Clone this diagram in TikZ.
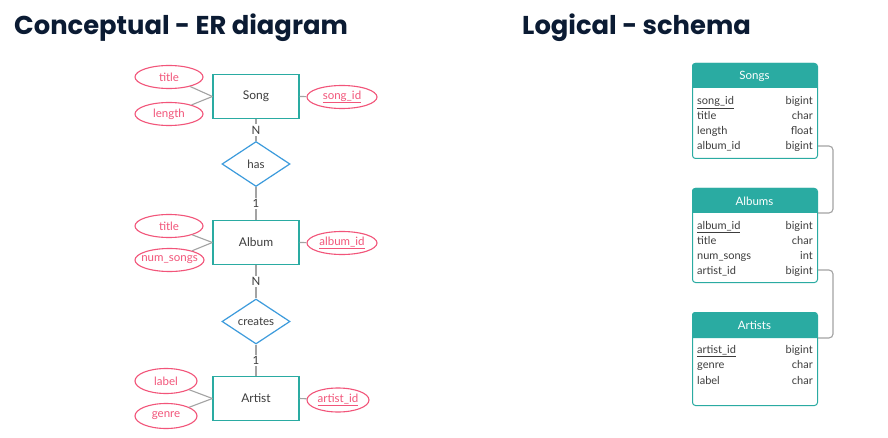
\documentclass[tikz,border=0pt]{standalone}
\usepackage{fontspec}
\setmainfont{Lato}
\newfontfamily\headfont{Poppins}
\usetikzlibrary{shapes.geometric}
\definecolor{tealc}{HTML}{2AABA2}
\definecolor{pinkc}{HTML}{F2557A}
\definecolor{bluec}{HTML}{3C9BDC}
\definecolor{grayl}{HTML}{A3A3A3}
\definecolor{txt}{HTML}{3D3D3D}
\definecolor{navy}{HTML}{0B1B33}
\tikzset{
  heading/.style={anchor=base west, inner sep=0, text=navy, font=\headfont\bfseries\fontsize{25.8}{30}\selectfont},
  attr/.style={ellipse, draw=pinkc, line width=1.1pt, text=pinkc, minimum width=68pt, minimum height=23pt, inner xsep=-6pt, inner ysep=-4pt, font=\fontsize{11.5}{13}\selectfont},
  entity/.style={rectangle, draw=tealc, line width=1.2pt, text=txt, minimum width=86pt, minimum height=44pt, font=\fontsize{12}{14}\selectfont},
  rel/.style={diamond, draw=bluec, line width=1.2pt, text=txt, minimum width=68pt, minimum height=45pt, inner sep=0, font=\fontsize{11.5}{13}\selectfont},
  gline/.style={draw=grayl, line width=1.1pt},
  card/.style={fill=white, text=txt, inner sep=1.5pt, font=\fontsize{11.5}{13}\selectfont},
  tbox/.style={draw=tealc, line width=1pt, rounded corners=3pt, minimum width=125pt, anchor=north west, inner sep=0},
  thead/.style={text=white, font=\fontsize{11.5}{13}\selectfont, inner sep=0},
  rowl/.style={anchor=base west, text=txt, inner sep=0, font=\fontsize{11}{13}\selectfont},
  rowr/.style={anchor=base east, text=txt, inner sep=0, font=\fontsize{11}{13}\selectfont},
  fk/.style={draw=grayl, line width=1.1pt, rounded corners=4pt},
}
\begin{document}
\begin{tikzpicture}[x=1pt,y=-1pt]
\useasboundingbox[fill=white] (0,0) rectangle (888,438);
% headings
\node[heading] (h1) at (14,35) {Conceptual - ER diagram};
\node[heading] (h2) at (522,35) {Logical - schema};

% ER diagram
\node[entity] (song) at (256,96.5) {Song};
\node[attr] (stitle) at (169,77) {title};
\node[attr] (slength) at (169,114) {length};
\node[attr, minimum width=70pt] (songid) at (342,97) {\underline{song\_id}};
\draw[gline] (stitle) -- (song.west);
\draw[gline] (slength) -- (song.west);
\draw[gline] (song.east) -- (songid);

\node[rel] (has) at (256,164) {has};

\node[entity] (album) at (256,242.5) {Album};
\node[attr] (atitle) at (169,226) {title};
\node[attr, minimum width=69pt] (anum) at (169.5,260) {num\_songs};
\node[attr, minimum width=70pt] (albumid) at (342,243) {\underline{album\_id}};
\draw[gline] (atitle) -- (album.west);
\draw[gline] (anum) -- (album.west);
\draw[gline] (album.east) -- (albumid);

\node[rel] (creates) at (256,321.5) {creates};

\node[entity] (artist) at (256,398.5) {Artist};
\node[attr, minimum width=62pt, minimum height=25pt] (rlabel) at (166,381) {label};
\node[attr, minimum width=62pt, minimum height=25pt] (rgenre) at (166,416) {genre};
\node[attr, minimum width=62pt, minimum height=24pt] (artistid) at (338,400) {\underline{artist\_id}};
\draw[gline] (rlabel) -- (artist.west);
\draw[gline] (rgenre) -- (artist.west);
\draw[gline] (artist.east) -- (artistid);

\draw[gline] (song.south) -- node[card] (c1) {N} (has.north);
\draw[gline] (has.south) -- node[card] (c2) {1} (album.north);
\draw[gline] (album.south) -- node[card] (c3) {N} (creates.north);
\draw[gline] (creates.south) -- node[card] (c4) {1} (artist.north);

% Logical schema
% Songs
\fill[tealc] (692,88) [rounded corners=3pt] -- (692,63) -- (817,63) [sharp corners] -- (817,88) -- cycle;
\node[tbox, minimum height=95pt] (songsbox) at (692,63) {};
\node[thead] (songshead) at (754.5,76) {Songs};
\node[rowl] (s1) at (697,104.5) {\underline{song\_id}};
\node[rowr] (s1t) at (813,104.5) {bigint};
\node[rowl] (s2) at (697,119.5) {title};
\node[rowr] (s2t) at (813,119.5) {char};
\node[rowl] (s3) at (697,134.5) {length};
\node[rowr] (s3t) at (813,134.5) {float};
\node[rowl] (s4) at (697,150) {album\_id};
\node[rowr] (s4t) at (813,150) {bigint};

% Albums
\fill[tealc] (692,213) [rounded corners=3pt] -- (692,188) -- (817,188) [sharp corners] -- (817,213) -- cycle;
\node[tbox, minimum height=94pt] (albumsbox) at (692,188) {};
\node[thead] (albumshead) at (754.5,201) {Albums};
\node[rowl] (a1) at (697,229.5) {\underline{album\_id}};
\node[rowr] (a1t) at (813,229.5) {bigint};
\node[rowl] (a2) at (697,244.5) {title};
\node[rowr] (a2t) at (813,244.5) {char};
\node[rowl] (a3) at (697,259.5) {num\_songs};
\node[rowr] (a3t) at (813,259.5) {int};
\node[rowl] (a4) at (697,274.5) {artist\_id};
\node[rowr] (a4t) at (813,274.5) {bigint};

% Artists
\fill[tealc] (692,338) [rounded corners=3pt] -- (692,312) -- (817,312) [sharp corners] -- (817,338) -- cycle;
\node[tbox, minimum height=93pt] (artistsbox) at (692,312) {};
\node[thead] (artistshead) at (754.5,325) {Artists};
\node[rowl] (r1) at (697,353.5) {\underline{artist\_id}};
\node[rowr] (r1t) at (813,353.5) {bigint};
\node[rowl] (r2) at (697,368.5) {genre};
\node[rowr] (r2t) at (813,368.5) {char};
\node[rowl] (r3) at (697,384) {label};
\node[rowr] (r3t) at (813,384) {char};

% foreign keys
\coordinate (k1) at (833,146);
\coordinate (k2) at (833,270);
\draw[fk] (songsbox.east |- k1) -- (k1) |- (albumsbox.east |- 0,213);
\draw[fk] (albumsbox.east |- k2) -- (k2) |- (artistsbox.east |- 0,338);
\end{tikzpicture}
\end{document}
